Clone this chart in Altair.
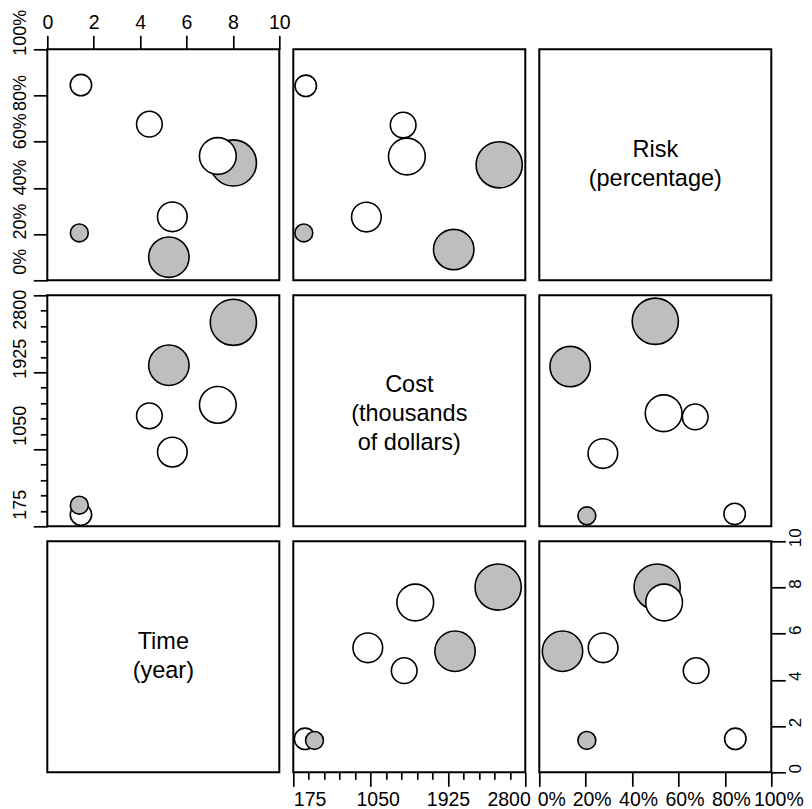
import altair as alt
import pandas as pd

# ---- data ----
project = ["A", "B", "C", "D", "E", "F", "G"]
time_year = [1.45, 4.40, 7.35, 8.02, 5.39, 1.38, 5.24]
cost_k = [308, 1430, 1555, 2493, 1018, 415, 2005]
risk_pct = [0.845, 0.676, 0.538, 0.508, 0.275, 0.205, 0.100]
# values as drawn in the Cost / Risk panels
cost_k_cr = [316, 1418, 1460, 2505, 1002, 294, 1990]
risk_pct_cr = [0.842, 0.672, 0.536, 0.500, 0.274, 0.205, 0.133]
weight = [14.6, 21, 43, 68, 28, 10.2, 52]
shade = ["white", "white", "white", "grey", "white", "grey", "grey"]
draw_order = [1, 2, 6, 5, 3, 7, 4]

time_ticks = [0, 2, 4, 6, 8, 10]
risk_ticks = [0, 0.2, 0.4, 0.6, 0.8, 1.0]
cost_major = [175, 1050, 1925, 2800]
cost_step = 175

diag_lines = {
    "risk": ["Risk", "(percentage)"],
    "cost": ["Cost", "(thousands", "of dollars)"],
    "time": ["Time", "(year)"],
}

df = pd.DataFrame({
    "project": project, "time": time_year, "cost": cost_k, "risk": risk_pct,
    "cost_cr": cost_k_cr, "risk_cr": risk_pct_cr, "weight": weight,
    "shade": shade, "draw_order": draw_order,
})

cost_ticks = list(range(cost_major[0], cost_major[-1] + 1, cost_step))

FONT = "Liberation Sans"
W, H = 232, 231
LINE_H = 29

time_scale = alt.Scale(domain=[0, 10], nice=False, zero=False)
risk_scale = alt.Scale(domain=[0, 1], nice=False, zero=False)
cost_scale = alt.Scale(domain=[cost_major[0], cost_major[-1]], nice=False, zero=False)

major_test = f"(datum.value - {cost_major[0]}) % {cost_step * 5} == 0"
cost_label_expr = f"{major_test} ? format(datum.value, 'd') : ''"
cost_tick_size = {"condition": {"test": major_test, "value": 14}, "value": 7}


def per_value(mapping, default=0):
    """Nested conditional on datum.value (label placement tweaks)."""
    conds = [{"test": f"abs(datum.value - {k}) < 1e-6", "value": v} for k, v in mapping.items()]
    return {"condition": conds, "value": default}


def scatter(xf, yf, xs, ys, xa=None, ya=None):
    return alt.Chart(df).mark_circle(
        stroke="black", strokeWidth=1.6, opacity=1
    ).encode(
        x=alt.X(f"{xf}:Q", scale=xs, axis=xa),
        y=alt.Y(f"{yf}:Q", scale=ys, axis=ya),
        size=alt.Size("weight:Q", scale=alt.Scale(domain=[0, 100], range=[0, 3140]), legend=None),
        fill=alt.Fill("shade:N", scale=alt.Scale(domain=["grey", "white"], range=["#BEBEBE", "#FFFFFF"]), legend=None),
        order=alt.Order("draw_order:Q"),
    ).properties(width=W, height=H)


def diag(key, shift=0):
    lines = diag_lines[key]
    return alt.Chart(pd.DataFrame({"label": ["\n".join(lines)]})).mark_text(
        font=FONT, fontSize=23.5, lineBreak="\n", lineHeight=LINE_H, color="black",
        baseline="middle", dy=-(len(lines) - 1) * LINE_H / 2 + shift,
    ).encode(
        text="label:N", x=alt.value(W / 2), y=alt.value(H / 2)
    ).properties(width=W, height=H)


time_top = alt.Axis(orient="top", values=time_ticks, labelAngle=0, tickSize=14,
                    labelPadding=3, labelFlush=False, format="d", title=None)
time_right = alt.Axis(orient="right", values=time_ticks, labelAngle=-90, tickSize=14,
                      labelAlign="center", labelBaseline="top", labelPadding=2,
                      labelFontSize=17, labelOffset=-4, labelFlush=False, format="d", title=None)
risk_left = alt.Axis(orient="left", values=risk_ticks, labelAngle=-90, tickSize=14,
                     labelAlign="center", labelBaseline="bottom", labelPadding=4,
                     labelFontSize=18,
                     labelOffset=per_value({1.0: -17, 0.8: -3, 0.6: -11, 0.4: -11, 0.2: -13, 0: -19}),
                     labelFlush=False, format=".0%", title=None)
risk_bottom = alt.Axis(orient="bottom", values=risk_ticks, labelAngle=0, tickSize=14,
                       labelPadding=4, labelFlush=False,
                       labelOffset=per_value({0: 12, 1.0: 7}, 6),
                       format=".0%", title=None)
cost_left = alt.Axis(orient="left", values=cost_ticks, labelAngle=-90, tickSize=cost_tick_size,
                     labelAlign="center", labelBaseline="bottom", labelPadding=4,
                     labelFontSize=18,
                     labelOffset=per_value({2800: 14, 1925: -14, 1050: -24, 175: -22}),
                     labelFlush=False, labelExpr=cost_label_expr, title=None)
cost_bottom = alt.Axis(orient="bottom", values=cost_ticks, labelAngle=0, tickSize=cost_tick_size,
                       labelPadding=4, labelFlush=True,
                       labelOffset=per_value({1050: 7, 2800: 5}),
                       labelExpr=cost_label_expr, title=None)

p11 = scatter("time", "risk", time_scale, risk_scale, time_top, risk_left)
p12 = scatter("cost_cr", "risk_cr", cost_scale, risk_scale)
p13 = diag("risk")
p21 = scatter("time", "cost", time_scale, cost_scale, None, cost_left)
p22 = diag("cost", 3)
p23 = scatter("risk_cr", "cost_cr", risk_scale, cost_scale)
p31 = diag("time")
p32 = scatter("cost", "time", cost_scale, time_scale, cost_bottom, None)
p33 = scatter("risk", "time", risk_scale, time_scale, risk_bottom, time_right)

chart = alt.concat(
    p11, p12, p13, p21, p22, p23, p31, p32, p33,
    columns=3, spacing={"row": 15, "column": 14}, bounds="flush",
).properties(
    autosize=alt.AutoSizeParams(type="none"),
    padding={"left": 39.3, "top": 41.3, "right": 756.5, "bottom": 760},
).configure_view(
    stroke="black", strokeWidth=2, fill="white"
).configure_axis(
    labelFont=FONT, labelFontSize=19.5, labelColor="black", tickColor="black",
    tickWidth=1.7, domain=False, grid=False, labelOverlap=False, labelBound=False,
)

chart.save("out.html", embed_options={"renderer": "svg", "actions": False})
